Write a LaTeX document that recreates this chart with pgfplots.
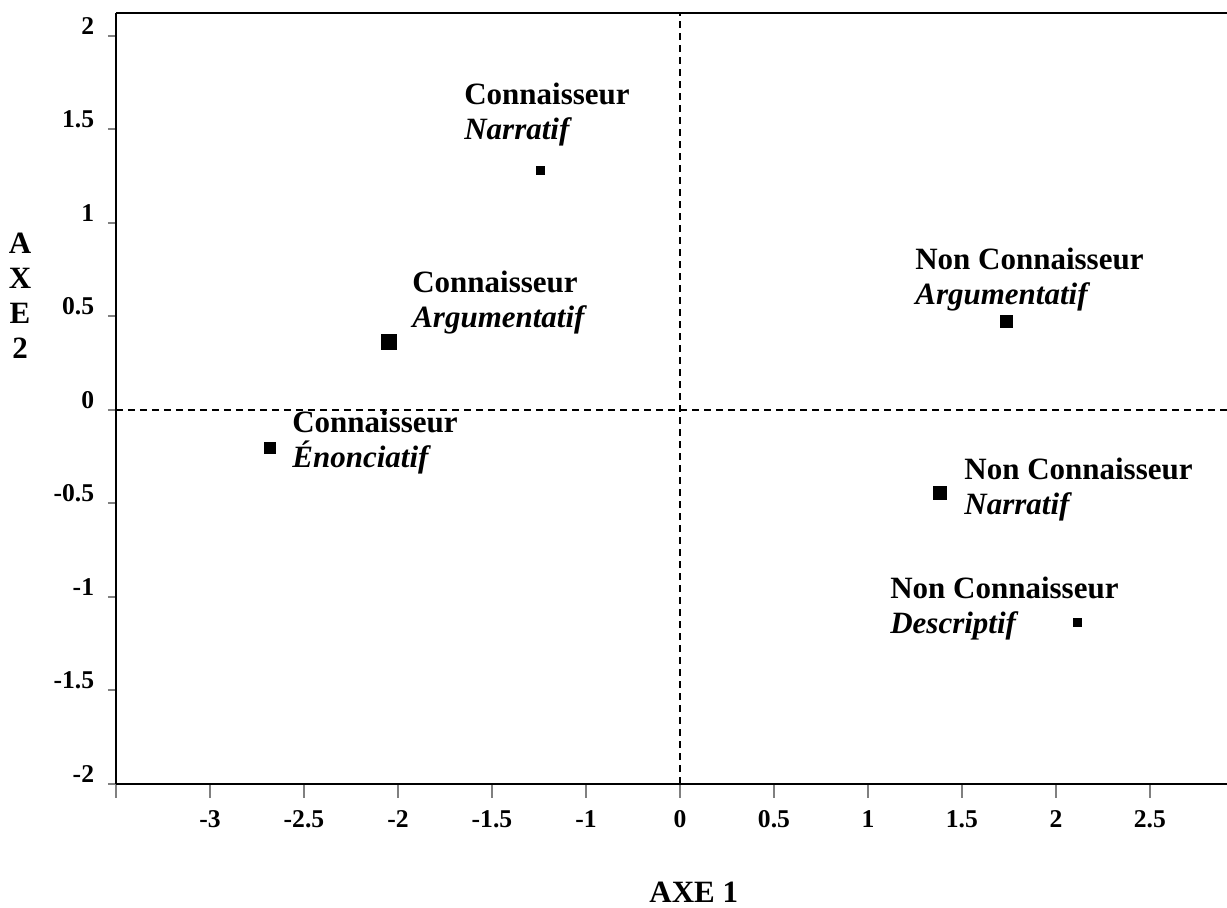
\documentclass[border=0pt]{standalone}
\usepackage{fontspec}
\setmainfont{Liberation Serif}
\usepackage{pgfplots}
\pgfplotsset{compat=1.18}
\tikzset{lab/.style={anchor=west, align=left, inner sep=0pt, font=\fontsize{15.5}{17.5}\selectfont\bfseries}}
\begin{document}
\begin{tikzpicture}
\useasboundingbox (-58pt,-62pt) rectangle (555.5pt,392pt);
\begin{axis}[
  at={(0,0)}, anchor=south west,
  scale only axis, width=555.5pt, height=385.5pt,
  xmin=-3, xmax=2.91, ymin=-2, ymax=2.123,
  axis x line*=box, axis y line*=left,
  axis line style={-, line width=1.4pt},
  tick align=outside,
  xtick pos=bottom, ytick pos=left,
  xtick={-3,-2.5,-2,-1.5,-1,-0.5,0,0.5,1,1.5,2,2.5},
  xticklabels={,-3,-2.5,-2,-1.5,-1,0,0.5,1,1.5,2,2.5},
  ytick={-2,-1.5,-1,-0.5,0,0.5,1,1.5,2},
  yticklabels={-2,-1.5,-1,-0.5,0,0.5,1,1.5,2},
  xtick style={line width=1pt, /pgfplots/major tick length=7pt},
  ytick style={line width=1pt, /pgfplots/major tick length=4pt},
  every tick label/.append style={font=\fontsize{12.8}{15}\selectfont\bfseries},
  xticklabel style={anchor=north, inner sep=0pt, yshift=-9pt},
  yticklabel style={anchor=east, inner sep=0pt, xshift=-6.5pt, yshift=5pt},
  clip=false,
]
% dashed reference lines
\addplot[black, line width=0.9pt, dash pattern=on 3.5pt off 2.5pt] coordinates {(0,-2) (0,2.123)};
\addplot[black, line width=0.9pt, dash pattern=on 3.5pt off 2.5pt] coordinates {(-3,0) (2.91,0)};
% points
\addplot[only marks, mark=square*, black, mark size=2pt] coordinates {(-0.745,1.283)};
\addplot[only marks, mark=square*, black, mark size=3.75pt] coordinates {(-1.548,0.364)};
\addplot[only marks, mark=square*, black, mark size=2.75pt] coordinates {(-2.181,-0.203)};
\addplot[only marks, mark=square*, black, mark size=3pt] coordinates {(1.739,0.476)};
\addplot[only marks, mark=square*, black, mark size=3.2pt] coordinates {(1.383,-0.444)};
\addplot[only marks, mark=square*, black, mark size=2pt] coordinates {(2.112,-1.134)};
% labels
\node[lab] at (axis cs:-1.149,1.578) {Connaisseur\\\textit{Narratif}};
\node[lab] at (axis cs:-1.426,0.572) {Connaisseur\\\textit{Argumentatif}};
\node[lab] at (axis cs:-2.064,-0.176) {Connaisseur\\\textit{Énonciatif}};
\node[lab] at (axis cs:1.25,0.70) {Non Connaisseur\\\textit{Argumentatif}};
\node[lab] at (axis cs:1.511,-0.428) {Non Connaisseur\\\textit{Narratif}};
\node[lab] at (axis cs:1.117,-1.064) {Non Connaisseur\\\textit{Descriptif}};
% axis titles
\node[inner sep=0pt, font=\fontsize{15.5}{17.5}\selectfont\bfseries] at (rel axis cs:0.520,0) [yshift=-54pt] {AXE 1};
\node[inner sep=0pt, align=center, font=\fontsize{15.5}{17.5}\selectfont\bfseries] at (rel axis cs:-0.0864,0.633) {A\\X\\E\\2};
\end{axis}
\end{tikzpicture}
\end{document}
